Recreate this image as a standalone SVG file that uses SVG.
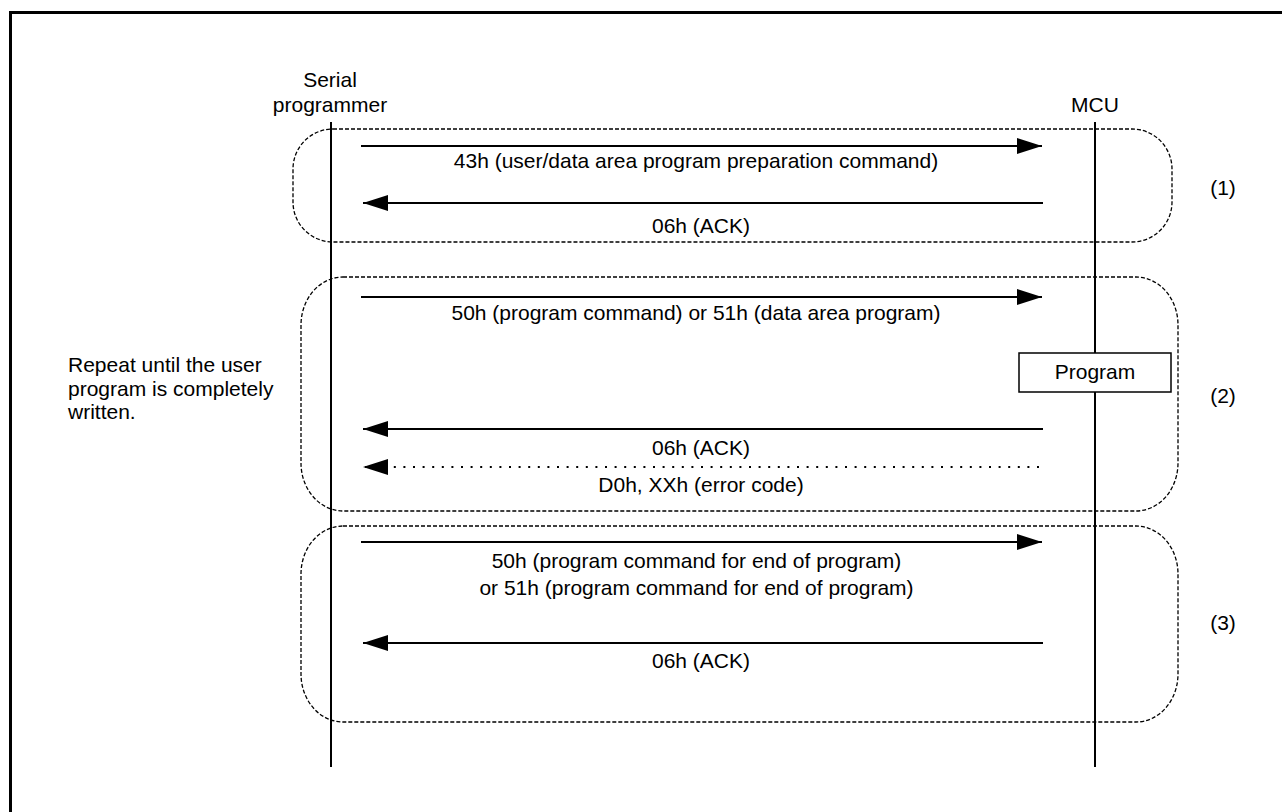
<svg xmlns="http://www.w3.org/2000/svg" width="1282" height="812" viewBox="0 0 1282 812">
<style>
text{font-family:"Liberation Sans",Arial,sans-serif;font-size:21px;fill:#000}
.c{text-anchor:middle}
.life{stroke:#000;stroke-width:2;fill:none}
.msg{stroke:#000;stroke-width:2;fill:none;marker-end:url(#ah)}
.dot{stroke:#000;stroke-width:2;fill:none;stroke-dasharray:2 7.6;marker-end:url(#ah)}
.grp{fill:none;stroke:#000;stroke-width:1.3;stroke-dasharray:4 2}
</style>
<defs>
<marker id="ah" markerUnits="userSpaceOnUse" markerWidth="25" markerHeight="16" refX="25" refY="8" orient="auto">
<path d="M0,0 L25,8 L0,16 z" fill="#000"/>
</marker>
</defs>
<rect x="0" y="0" width="1282" height="812" fill="#fff"/>
<rect x="10.5" y="12.5" width="1300" height="830" fill="none" stroke="#000" stroke-width="3"/>

<g id="groups">
<rect class="grp" x="293" y="129" width="879" height="113" rx="40" ry="40"/>
<rect class="grp" x="301" y="277" width="877" height="234" rx="42" ry="48"/>
<rect class="grp" x="301" y="526" width="877" height="196" rx="42" ry="48"/>
</g>

<g id="serial-programmer">
<line class="life" x1="331" y1="122" x2="331" y2="767"/>
<text class="c" x="330" y="87">Serial</text>
<text class="c" x="330" y="112">programmer</text>
</g>

<g id="mcu">
<line class="life" x1="1095" y1="122" x2="1095" y2="767"/>
<text class="c" x="1095" y="112">MCU</text>
</g>

<g id="program-box">
<rect x="1019" y="353" width="152" height="39" fill="#fff" stroke="#000" stroke-width="1.5"/>
<text class="c" x="1095" y="379">Program</text>
</g>

<g id="connectors">
<line class="msg" x1="361" y1="146" x2="1042" y2="146"/>
<line class="msg" x1="1043" y1="203" x2="363" y2="203"/>
<line class="msg" x1="361" y1="297" x2="1042" y2="297"/>
<line class="msg" x1="1043" y1="429" x2="363" y2="429"/>
<path class="dot" d="M1039,467 L363,467"/>
<line class="msg" x1="361" y1="542" x2="1042" y2="542"/>
<line class="msg" x1="1043" y1="643" x2="363" y2="643"/>
</g>

<g id="labels">
<text class="c" x="696" y="168">43h (user/data area program preparation command)</text>
<text class="c" x="701" y="233">06h (ACK)</text>
<text class="c" x="696" y="320">50h (program command) or 51h (data area program)</text>
<text class="c" x="701" y="455">06h (ACK)</text>
<text class="c" x="701" y="492">D0h, XXh (error code)</text>
<text class="c" x="696.5" y="568">50h (program command for end of program)</text>
<text class="c" x="696.5" y="595">or 51h (program command for end of program)</text>
<text class="c" x="701" y="668">06h (ACK)</text>
</g>

<g id="phase-labels">
<text class="c" x="1223" y="195">(1)</text>
<text class="c" x="1223" y="403">(2)</text>
<text class="c" x="1223" y="630">(3)</text>
</g>

<g id="repeat-note">
<text x="68" y="372">Repeat until the user</text>
<text x="68" y="395.5">program is completely</text>
<text x="68" y="419">written.</text>
</g>
</svg>
